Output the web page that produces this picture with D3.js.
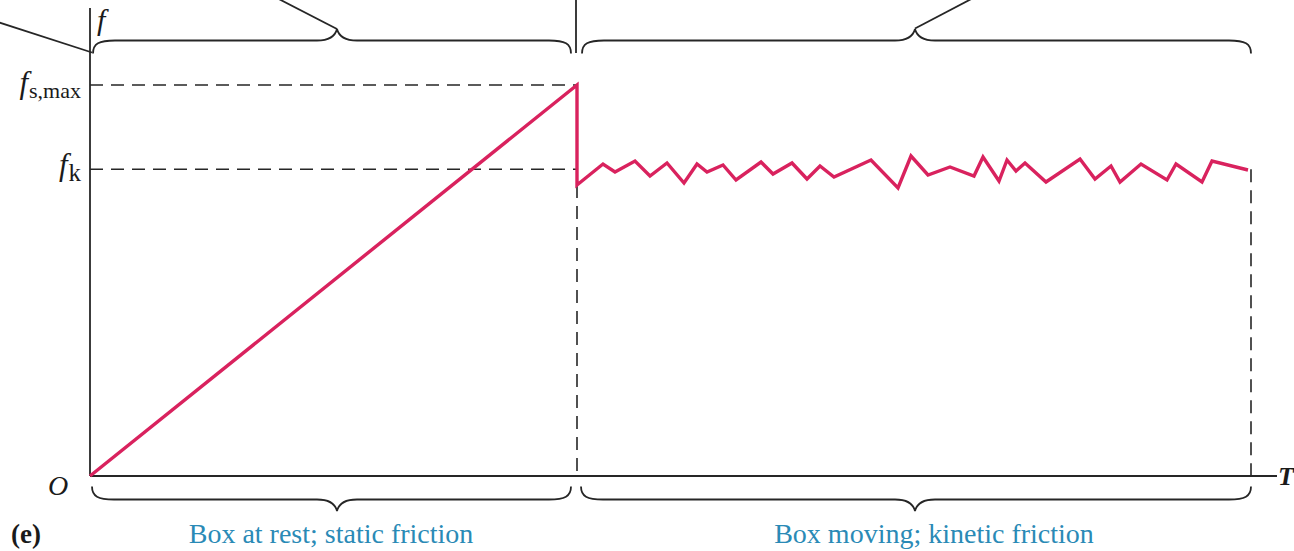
<!DOCTYPE html>
<html>
<head>
<meta charset="utf-8">
<script src="https://cdn.jsdelivr.net/npm/d3@7"></script>
<style>
  html, body { margin: 0; padding: 0; background: #fff; }
  svg { display: block; }
</style>
</head>
<body>
<svg id="chart" width="1294" height="551"></svg>
<script>
// Applied force T (arbitrary units) and friction force f (arbitrary units)
const staticT = [0, 48.7];
const staticF = [0, 97.75];

const kineticT = [48.7, 51.3, 52.5, 54.5, 56.0, 57.7, 59.4, 60.7, 61.7, 63.3, 64.6,
  67.1, 68.3, 70.2, 71.7, 73.0, 74.4, 78.1, 80.8, 82.1, 83.8, 86.0, 88.4, 89.3,
  90.9, 91.7, 92.6, 93.5, 95.6, 99.0, 100.5, 102.1, 103.0, 105.1, 107.7, 108.6,
  111.2, 112.2, 115.8];
const kineticF = [72.75, 78, 76, 78.75, 75, 78.25, 73.25, 78, 76, 77.75, 74,
  78.5, 75.5, 78.25, 74.25, 77.5, 74.75, 79, 72, 80, 75.25, 77.25, 75, 79.75,
  73.75, 79, 76.25, 78.25, 73.5, 79.25, 74.25, 77.5, 73.5, 78, 74, 78,
  73.5, 78.75, 76.5];

const fsMax = 97.75;
const fk = 76.7;

// Regions along the T axis
const regionStart = [0, 48.7];
const regionEnd = [48.7, 115.8];
const regionCentre = [24.7, 82.5];
const regionCaption = ["Box at rest; static friction", "Box moving; kinetic friction"];
const captionCentre = [24.1, 84.4];

const svg = d3.select("#chart");
const x = d3.scaleLinear().domain([0, 120]).range([90, 1290]);
const y = d3.scaleLinear().domain([0, 117]).range([476, 8]);

const ink = "#262626";
const red = "#d9225e";
const blue = "#2a8ab6";
const serif = "'Liberation Serif', 'DejaVu Serif', serif";

// Axes
svg.append("line").attr("x1", x(0)).attr("x2", x(0))
  .attr("y1", y(0)).attr("y2", y(117))
  .attr("stroke", ink).attr("stroke-width", 1.8);
svg.append("line").attr("x1", x(0)).attr("x2", x(118.7))
  .attr("y1", y(0)).attr("y2", y(0))
  .attr("stroke", ink).attr("stroke-width", 1.8);

// Dashed reference lines
const dash = "13,8";
const refs = svg.append("g").attr("stroke", ink).attr("stroke-width", 1.6)
  .attr("stroke-dasharray", dash).attr("fill", "none");
refs.append("line").attr("x1", x(0)).attr("x2", x(staticT[1]))
  .attr("y1", y(fsMax)).attr("y2", y(fsMax));
refs.append("line").attr("x1", x(0)).attr("x2", x(staticT[1]))
  .attr("y1", y(fk)).attr("y2", y(fk));
refs.append("line").attr("x1", x(kineticT[0])).attr("x2", x(kineticT[0]))
  .attr("y1", y(kineticF[0])).attr("y2", y(0));
const lastT = kineticT[kineticT.length - 1];
refs.append("line").attr("x1", x(lastT) + 3).attr("x2", x(lastT) + 3)
  .attr("y1", y(fk)).attr("y2", y(0));

// Friction curve: static ramp, sudden drop, then fluctuating kinetic friction
const pts = staticT.map((t, i) => [t, staticF[i]])
  .concat(kineticT.map((t, i) => [t, kineticF[i]]));
const line = d3.line().x(d => x(d[0])).y(d => y(d[1]));
svg.append("path").datum(pts).attr("d", line)
  .attr("fill", "none").attr("stroke", red).attr("stroke-width", 3.4)
  .attr("stroke-linejoin", "miter");

// Curly brace between x0 and x1 at baseline yb; dir=+1 points up (ends curl down)
function brace(x0, x1, c, yb, dir) {
  const e = 13 * dir, p = -11.5 * dir;
  return `M${x0},${yb + e} C${x0},${yb + e * 0.25} ${x0 + 6},${yb} ${x0 + 22},${yb}` +
    ` L${c - 20},${yb} C${c - 8},${yb} ${c - 2},${yb + p * 0.3} ${c},${yb + p}` +
    ` C${c + 2},${yb + p * 0.3} ${c + 8},${yb} ${c + 20},${yb}` +
    ` L${x1 - 22},${yb} C${x1 - 6},${yb} ${x1},${yb + e * 0.25} ${x1},${yb + e}`;
}

const braces = svg.append("g").attr("fill", "none").attr("stroke", ink).attr("stroke-width", 1.8);
regionStart.forEach((s, i) => {
  const x0 = x(s) + (i === 0 ? 3 : 5);
  const x1 = x(regionEnd[i]) - (i === 0 ? 6 : -3);
  const c = x(regionCentre[i]);
  braces.append("path").attr("d", brace(x0, x1, c, 40.5, 1));
  braces.append("path").attr("d", brace(x0 - 1, x1, c, 499.5, -1));
});

// Leader lines above the top braces
braces.append("line").attr("x1", x(regionCentre[0])).attr("y1", 29)
  .attr("x2", x(regionCentre[0]) - 64).attr("y2", -4);
braces.append("line").attr("x1", x(regionCentre[1])).attr("y1", 28.5)
  .attr("x2", x(regionCentre[1]) + 62).attr("y2", -4);
braces.append("line").attr("x1", -4).attr("y1", 21.5)
  .attr("x2", x(0) + 2).attr("y2", 52.5);
braces.append("line").attr("x1", x(regionEnd[0]) - 1).attr("x2", x(regionEnd[0]) - 1)
  .attr("y1", 0).attr("y2", 53);

// Text
const txt = svg.append("g").attr("font-family", serif).attr("fill", "#1a1a1a");

txt.append("text").attr("x", 97).attr("y", 30)
  .attr("font-size", 30).attr("font-style", "italic").text("f");

const fsLabel = txt.append("text").attr("x", 81).attr("y", y(fsMax) + 8)
  .attr("text-anchor", "end");
fsLabel.append("tspan").attr("font-size", 31).attr("font-style", "italic").text("f");
fsLabel.append("tspan").attr("font-size", 22).attr("dy", 5).attr("dx", 1).text("s,max");

const fkLabel = txt.append("text").attr("x", 81).attr("y", y(fk) + 6)
  .attr("text-anchor", "end");
fkLabel.append("tspan").attr("font-size", 31).attr("font-style", "italic").text("f");
fkLabel.append("tspan").attr("font-size", 25).attr("dy", 6).attr("dx", 1).text("k");

txt.append("text").attr("x", 58).attr("y", 495).attr("text-anchor", "middle")
  .attr("font-size", 28).attr("font-style", "italic").text("O");

txt.append("text").attr("x", 1278).attr("y", 485)
  .attr("font-size", 26).attr("font-style", "italic").attr("font-weight", "bold").text("T");

txt.append("text").attr("x", 11).attr("y", 543)
  .attr("font-size", 27).attr("font-weight", "bold").text("(e)");

regionCaption.forEach((c, i) => {
  txt.append("text").attr("x", x(captionCentre[i])).attr("y", 543)
    .attr("text-anchor", "middle").attr("font-size", 28).attr("fill", blue).text(c);
});
</script>
</body>
</html>
